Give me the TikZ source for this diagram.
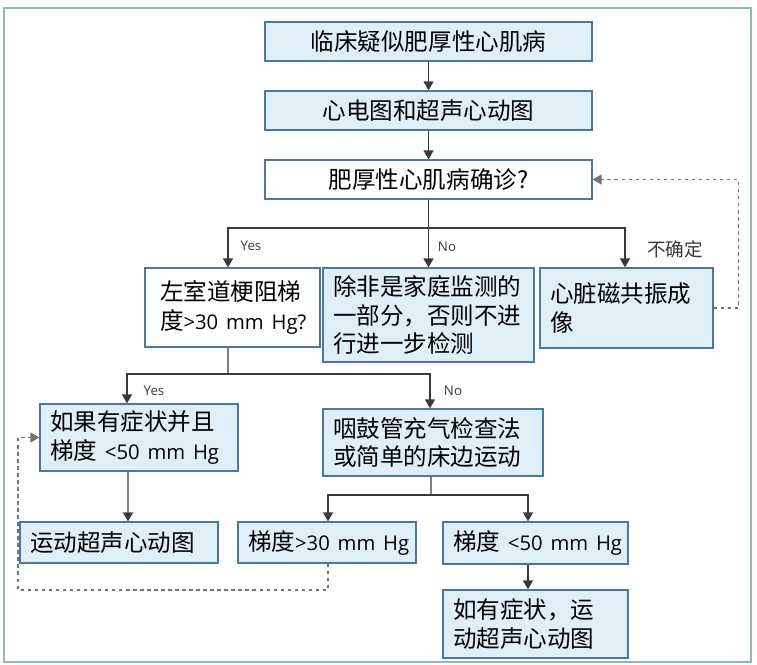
\documentclass[tikz,border=0pt]{standalone}
\usepackage{fontspec}
\setmainfont{Noto Sans CJK SC}
\newfontfamily\latn{Open Sans}[Scale=0.86]
\usepackage{xcolor}
\usepackage{tikz}
\usetikzlibrary{arrows.meta,positioning,calc}

\definecolor{boxfill}{HTML}{DEEFF7}
\definecolor{boxedge}{HTML}{4A78A6}
\definecolor{framegreen}{HTML}{8CC0A4}
\definecolor{linegray}{HTML}{3A3A3A}

\newcommand{\boxfont}{\fontsize{13.4}{16.4}\selectfont}
\newcommand{\tagfont}{\fontsize{8.8}{9}\selectfont\latn}

\begin{document}
\begin{tikzpicture}[x=0.02cm, y=-0.02cm,
    box/.style={draw=boxedge, fill=boxfill, line width=0.7pt, inner xsep=0.2cm, inner ysep=0pt, align=left, font=\boxfont},
    qbox/.style={box, align=center, minimum width=6.54cm, minimum height=0.78cm},
    line/.style={draw=linegray, line width=0.8pt},
    arr/.style={line, -{Triangle[width=0.2cm,length=0.18cm]}},
    dasharr/.style={draw=gray!90!black, line width=0.8pt, dash pattern=on 2pt off 2pt, -{Triangle[width=0.2cm,length=0.18cm]}},
    tag/.style={font=\tagfont, text=linegray, inner sep=0pt}]
  \useasboundingbox (0,0) rectangle (757,665);
  \draw[framegreen, line width=1.2pt] (4,8) rectangle (751,662);

  % top column
  \node[qbox] (suspect) at (428.5,41.5) {临床疑似肥厚性心肌病};
  \node[qbox] (echo) at (428.5,110.5) {心电图和超声心动图};
  \node[qbox, fill=white] (confirm) at (428.5,179.5) {肥厚性心肌病确诊?};

  % first split
  \node[box, fill=white, inner xsep=0.3cm, text width=2.9cm, minimum height=1.58cm] (lvot) at (232.5,307.5) {左室道梗阻梯\\度{\latn>30~mm~Hg?}};
  \node[box, text width=3.82cm, minimum height=1.88cm] (nofurther) at (428.5,315) {除非是家庭监测的\\一部分，否则不进\\行进一步检测};
  \node[box, text width=3.06cm, minimum height=1.6cm] (cmr) at (626.5,308) {心脏磁共振成\\像};

  % second split
  \node[box, text width=3.56cm, minimum height=1.34cm] (sympt) at (139,437.5) {如果有症状并且\\梯度{\latn~<50~mm~Hg}};
  \node[box, text width=4.0cm, minimum height=1.34cm] (valsalva) at (433,442.5) {咽鼓管充气检查法\\或简单的床边运动};
  \node[box, text width=3.56cm, minimum height=0.82cm] (exerecho) at (119,542.5) {运动超声心动图};
  \node[box, text width=3.16cm, minimum height=0.82cm] (gradhi) at (327,542.5) {梯度{\latn>30~mm~Hg}};
  \node[box, text width=3.3cm, minimum height=0.84cm] (gradlo) at (535.5,543) {梯度{\latn~<50~mm~Hg}};
  \node[box, text width=3.3cm, minimum height=1.36cm] (symptecho) at (535.5,624) {如有症状，运\\动超声心动图};

  \coordinate (split1) at (428.5,228);
  \coordinate (split2) at (228,374);
  \coordinate (split3) at (431,495);
  \coordinate (loop) at (18,590);

  % connectors
  \draw[arr] (suspect) -- (echo);
  \draw[arr] (echo) -- (confirm);
  \draw[line] (confirm.south) -- (split1);
  \draw[arr] (split1) -| ([xshift=-0.09cm]lvot.north);
  \draw[arr] (split1) -- (nofurther.north);
  \draw[arr] (split1) -| ([xshift=-0.03cm]cmr.north);
  \draw[line] ([xshift=-0.09cm]lvot.south) -- (split2);
  \draw[arr] (split2) -| ([xshift=-0.24cm]sympt.north);
  \draw[arr] (split2) -| ([xshift=-0.06cm]valsalva.north);
  \draw[arr] ([xshift=-0.22cm]sympt.south) -- ([xshift=0.18cm]exerecho.north);
  \draw[line] ([xshift=-0.04cm]valsalva.south) -- (split3);
  \draw[arr] (split3) -| ([xshift=0.02cm]gradhi.north);
  \draw[arr] (split3) -| ([xshift=-0.15cm]gradlo.north);
  \draw[arr] ([xshift=-0.15cm]gradlo.south) -- ([xshift=-0.15cm]symptecho.north);

  % feedback loops
  \draw[dasharr] (cmr.east) -- ++(0.5cm,0) |- (confirm.east);
  \draw[dasharr] ([xshift=0.02cm]gradhi.south) |- (loop) |- (sympt.west);

  % branch labels
  \node[tag] (yes1) at (251,246) {Yes};
  \node[tag] (no1) at (447,247) {No};
  \node[tag, font=\fontsize{10.6}{12}\selectfont] (unsure) at (675,249) {不确定};
  \node[tag] (yes2) at (154,391) {Yes};
  \node[tag] (no2) at (453,391) {No};
\end{tikzpicture}
\end{document}
